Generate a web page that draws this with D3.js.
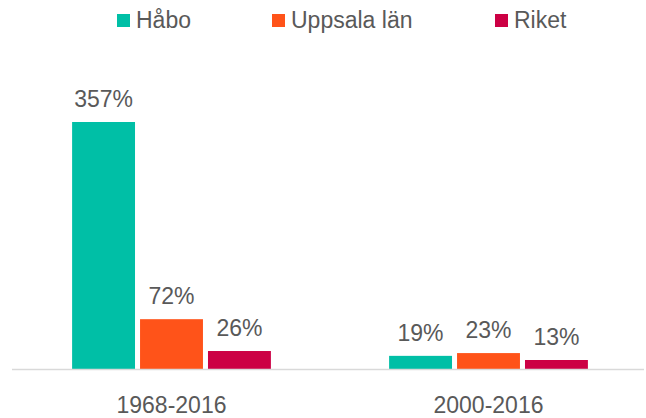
<!DOCTYPE html>
<html><head><meta charset="utf-8">
<script src="https://cdn.jsdelivr.net/npm/d3@7"></script>
<style>body{margin:0;background:#fff}svg{display:block;font-family:"Liberation Sans",Arial,sans-serif}</style>
</head><body><svg id="c" width="646" height="418"></svg>
<script>
const categories = ["1968-2016", "2000-2016"];
const seriesNames = ["Håbo", "Uppsala län", "Riket"];
const habo = [357, 19];
const uppsala = [72, 23];
const riket = [26, 13];
const colors = ["#00BFA6", "#FF5319", "#CC0044"];

const svg = d3.select("#c");
const baseY = 369, topY = 122;
const x0 = d3.scaleBand().domain(categories).range([13, 647]).paddingInner(0).paddingOuter(0);
const x1 = d3.scaleBand().domain(seriesNames).range([0, x0.bandwidth()]).paddingInner(0.074).paddingOuter(0.87);
const y = d3.scaleLinear().domain([0, 357]).range([baseY, topY]);

const data = categories.map((c, i) => ({cat: c, vals: [habo[i], uppsala[i], riket[i]]}));

const g = svg.selectAll("g.grp").data(data).join("g").attr("class","grp")
  .attr("transform", d => `translate(${x0(d.cat)},0)`);
g.selectAll("rect").data(d => d.vals.map((v, j) => ({v, s: seriesNames[j], j})))
  .join("rect")
  .attr("x", d => x1(d.s)).attr("width", x1.bandwidth())
  .attr("y", d => y(d.v)).attr("height", d => baseY - y(d.v))
  .attr("fill", d => colors[d.j]);
g.selectAll("text.lbl").data(d => d.vals.map((v, j) => ({v, s: seriesNames[j], j})))
  .join("text").attr("class","lbl")
  .attr("x", d => x1(d.s) + x1.bandwidth()/2).attr("y", d => y(d.v) - 15)
  .attr("text-anchor","middle").attr("font-size", 23).attr("fill","#595959")
  .text(d => d.v + "%");

svg.append("line").attr("x1", 12).attr("x2", 644).attr("y1", baseY + 0.5).attr("y2", baseY + 0.5)
  .attr("stroke", "#d9d9d9").attr("stroke-width", 1.5);

const xAxis = d3.axisBottom(x0).tickSize(0).tickPadding(0);
const ax = svg.append("g").attr("transform", `translate(0,${baseY})`).call(xAxis);
ax.select(".domain").remove();
ax.selectAll("text").attr("font-size", 23).attr("fill", "#595959")
  .attr("font-family", '"Liberation Sans",Arial,sans-serif').attr("dy", null).attr("y", 44);

const legX = [117, 272, 495];
const leg = svg.selectAll("g.leg").data(seriesNames).join("g").attr("class","leg")
  .attr("transform", (d, i) => `translate(${legX[i]},14)`);
leg.append("rect").attr("width", 13).attr("height", 13).attr("fill", (d, i) => colors[i]);
leg.append("text").attr("x", 19).attr("y", 14).attr("font-size", 23).attr("fill", "#595959").text(d => d);
</script></body></html>
